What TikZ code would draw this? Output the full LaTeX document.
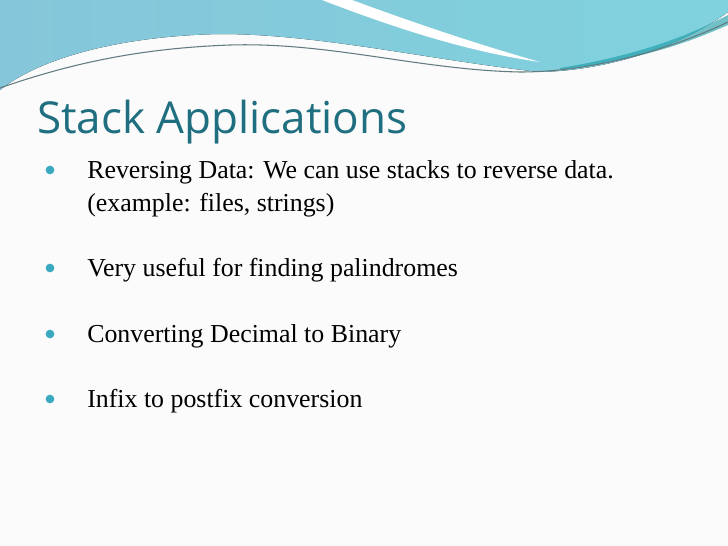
\documentclass[tikz,border=0pt]{standalone}
\usepackage{fontspec}
\setmainfont{Liberation Serif}
\newfontfamily\titlefont{Open Sans}
\definecolor{teal1}{HTML}{1F6F80}
\definecolor{bulc}{HTML}{3AA9C0}
\definecolor{wave1}{HTML}{86C6DA}
\definecolor{wave2}{HTML}{7FD2DE}
\begin{document}
\begin{tikzpicture}[x=0.75pt,y=-0.75pt,
  body/.style={anchor=west,font=\fontsize{19.4}{22}\selectfont,text=black,inner sep=0},
  bul/.style={circle,fill=bulc,inner sep=0,minimum size=6.5pt}]
\useasboundingbox (0,0) rectangle (728,546);
\fill[white!97!gray] (0,0) rectangle (728,546);
% waves
\fill[left color=wave1,right color=wave2] (0,0) -- (0,90) .. controls (40,58) and (120,36) .. (220,34)
  .. controls (320,34) and (430,60) .. (540,72) .. controls (620,70) and (690,40) .. (728,12) -- (728,0) -- cycle;
\fill[white] (322,0) -- (352,0) .. controls (420,25) and (480,45) .. (540,62) .. controls (470,52) and (400,30) .. (322,0) -- cycle;
\fill[teal1!70!cyan,opacity=0.6] (560,68) .. controls (640,55) and (690,35) .. (728,15) -- (728,25) .. controls (690,42) and (640,60) .. (560,70) -- cycle;
\draw[gray!70!teal1,line width=0.8pt] (0,88) .. controls (80,60) and (150,48) .. (230,45) .. controls (330,42) and (420,70) .. (520,72) .. controls (600,72) and (680,45) .. (728,22);
% title
\node[anchor=base west,inner sep=0,text=teal1,font=\titlefont\fontsize{33}{38}\selectfont] (title) at (37,133) {Stack Applications};
% bullets
\foreach \y/\n in {172/a,270/b,336/c,401/d} \node[bul] (b\n) at (50,\y-2) {};
\node[body] (t1) at (87,172) {Reversing Data: We can use stacks to reverse data.};
\node[body] (t1b) at (87,205) {(example: files, strings)};
\node[body] (t2) at (87,270) {Very useful for finding palindromes};
\node[body] (t3) at (87,336) {Converting Decimal to Binary};
\node[body] (t4) at (87,401) {Infix to postfix conversion};
\end{tikzpicture}
\end{document}
